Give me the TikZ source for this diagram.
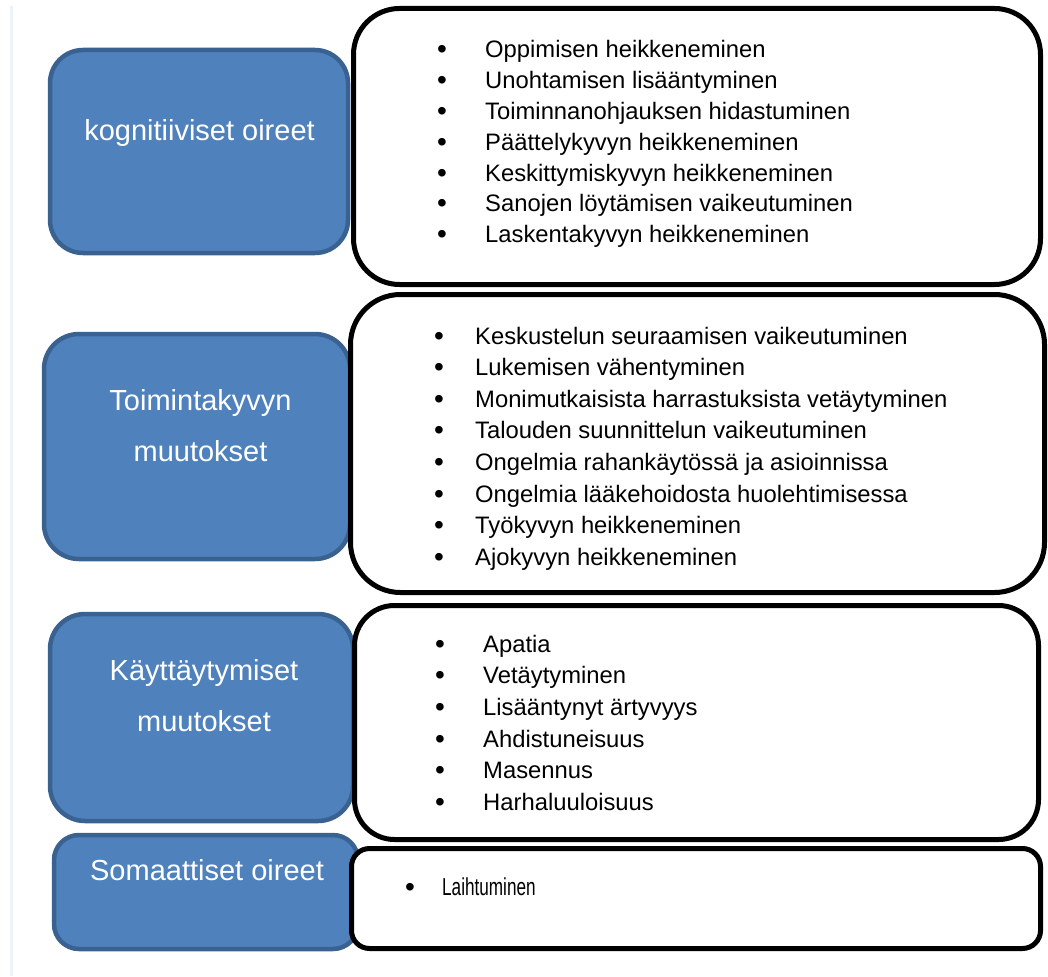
\documentclass[tikz,border=0pt]{standalone}
\usepackage{fontspec}
\setmainfont{Liberation Sans}
\definecolor{boxblue}{HTML}{4F81BD}
\definecolor{boxedge}{HTML}{3A6291}
\definecolor{rulecol}{HTML}{ECF1FA}
\tikzset{
  catbox/.style={draw=boxedge, fill=boxblue, line width=4.5pt, inner sep=0pt, outer sep=0pt},
  listbox/.style={draw=black, fill=white, line width=5pt, inner sep=0pt, outer sep=0pt},
  cattext/.style={text=white, anchor=base, inner sep=0pt, font=\fontsize{29}{35}\selectfont},
  bul/.style={anchor=base, inner sep=0pt, font=\fontsize{28}{31}\selectfont},
  itemtext/.style={anchor=base west, inner sep=0pt, font=\fontsize{23.8}{31}\selectfont},
}
\begin{document}
\begin{tikzpicture}[x=1pt, y=-1pt]
\useasboundingbox (0,0) rectangle (1048,976);
\fill[white] (0,0) rectangle (1048,976);
% thin page rule on the left
\fill[rulecol] (10,6) rectangle (12.5,976);

% category boxes
\node[catbox, rounded corners=33pt, minimum width=298pt, minimum height=203pt] (c1) at (199,151.5) {};
\node[catbox, rounded corners=35pt, minimum width=306pt, minimum height=225pt] (c2) at (197,446.5) {};
\node[catbox, rounded corners=35pt, minimum width=303pt, minimum height=207pt] (c3) at (201.5,717.5) {};
\node[catbox, rounded corners=25pt, minimum width=304pt, minimum height=114pt] (c4) at (206,892) {};

\node[cattext] (c1t) at (199.5,141) {kognitiiviset oireet};
\node[cattext] (c2ta) at (200.5,410) {Toimintakyvyn};
\node[cattext] (c2tb) at (200.5,461.5) {muutokset};
\node[cattext] (c3ta) at (204,680) {Käyttäytymiset};
\node[cattext] (c3tb) at (204,731.5) {muutokset};
\node[cattext] (c4t) at (207,880) {Somaattiset oireet};

% symptom lists
\node[listbox, rounded corners=46pt, minimum width=687pt, minimum height=276pt] (l1) at (697,146.5) {};
\node[listbox, rounded corners=50pt, minimum width=694pt, minimum height=298pt] (l2) at (697.5,443.5) {};
\node[listbox, rounded corners=40pt, minimum width=684pt, minimum height=234pt] (l3) at (696.5,722.5) {};
\node[listbox, rounded corners=18pt, minimum width=689pt, minimum height=100pt] (l4) at (696,898.5) {};

\foreach \t [count=\i] in {Oppimisen heikkeneminen, Unohtamisen lisääntyminen,
  Toiminnanohjauksen hidastuminen, Päättelykyvyn heikkeneminen,
  Keskittymiskyvyn heikkeneminen, Sanojen löytämisen vaikeutuminen,
  Laskentakyvyn heikkeneminen} {
  \node[bul] (ab\i) at ({442},{59+30.8*(\i-1)}) {•};
  \node[itemtext] (at\i) at ({485},{58+30.8*(\i-1)}) {\t};
}

\foreach \t [count=\i] in {Keskustelun seuraamisen vaikeutuminen, Lukemisen vähentyminen,
  Monimutkaisista harrastuksista vetäytyminen, Talouden suunnittelun vaikeutuminen,
  Ongelmia rahankäytössä ja asioinnissa, Ongelmia lääkehoidosta huolehtimisessa,
  Työkyvyn heikkeneminen, Ajokyvyn heikkeneminen} {
  \node[bul] (bb\i) at ({439},{345+31.6*(\i-1)}) {•};
  \node[itemtext] (bt\i) at ({475},{344+31.6*(\i-1)}) {\t};
}

\foreach \t [count=\i] in {Apatia, Vetäytyminen, Lisääntynyt ärtyvyys,
  Ahdistuneisuus, Masennus, Harhaluuloisuus} {
  \node[bul] (cb\i) at ({440},{653+31.7*(\i-1)}) {•};
  \node[itemtext] (ct\i) at ({483},{652+31.7*(\i-1)}) {\t};
}

\node[bul] (db1) at (410,896) {•};
\node[itemtext, font=\fontsize{24.5}{31}\selectfont] (dt1) at (442,895) {\scalebox{0.7}[1]{Laihtuminen}};
\end{tikzpicture}
\end{document}
